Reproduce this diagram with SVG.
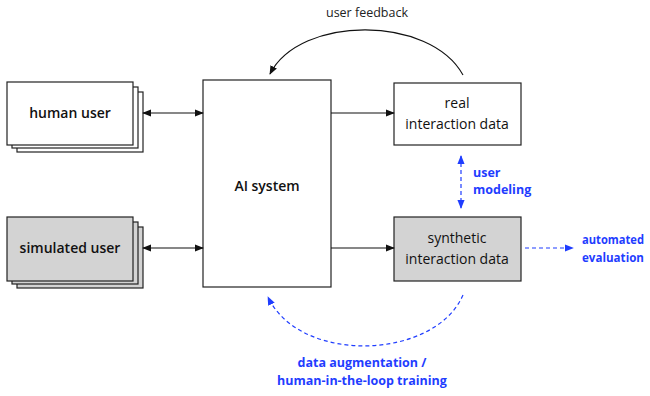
<svg xmlns="http://www.w3.org/2000/svg" width="650" height="396" viewBox="0 0 650 396">
<style>
.box{stroke:#222;stroke-width:1.2}
.w{fill:#fff}
.g{fill:#d3d3d3}
.t{font-family:"Open Sans",Lato,"DejaVu Sans",sans-serif;font-size:14px;fill:#111;text-anchor:middle}
.tb{font-weight:600}
.blue{font-family:"Open Sans",Lato,"DejaVu Sans",sans-serif;font-size:12.5px;font-weight:bold;fill:#1f3dff}
.conn{stroke:#111;stroke-width:1.1;fill:none}
.dash{stroke:#1f3dff;stroke-width:1.2;fill:none;stroke-dasharray:4,3}
</style>
<defs>
<marker id="ah" viewBox="0 0 10 10" refX="9" refY="5" markerWidth="9" markerHeight="9" orient="auto-start-reverse" markerUnits="userSpaceOnUse"><path d="M0,1 L10,5 L0,9 z" fill="#111"/></marker>
<marker id="bh" viewBox="0 0 10 10" refX="9" refY="5" markerWidth="9" markerHeight="9" orient="auto-start-reverse" markerUnits="userSpaceOnUse"><path d="M0,1 L10,5 L0,9 z" fill="#1f3dff"/></marker>
</defs>
<g id="human-user">
<rect class="box w" x="17" y="92" width="126" height="60"/>
<rect class="box w" x="12" y="87" width="126" height="61"/>
<rect class="box w" x="7" y="82" width="126" height="63"/>
<text class="t tb" x="70" y="118">human user</text>
</g>
<g id="simulated-user">
<rect class="box g" x="17" y="227" width="126" height="61"/>
<rect class="box g" x="12" y="222" width="126" height="62"/>
<rect class="box g" x="7" y="217" width="126" height="64"/>
<text class="t tb" x="70" y="253">simulated user</text>
</g>
<g id="ai-system">
<rect class="box w" x="203" y="80" width="128" height="207"/>
<text class="t tb" x="267" y="191">AI system</text>
</g>
<g id="real-data">
<rect class="box w" x="394" y="83" width="127" height="62"/>
<text class="t" x="457" y="108">real</text>
<text class="t" x="457" y="129">interaction data</text>
</g>
<g id="synthetic-data">
<rect class="box g" x="394" y="217" width="127" height="64"/>
<text class="t" x="457" y="243">synthetic</text>
<text class="t" x="457" y="264">interaction data</text>
</g>
<g id="connectors">
<line class="conn" x1="143" y1="113" x2="203" y2="113" marker-start="url(#ah)" marker-end="url(#ah)"/>
<line class="conn" x1="143" y1="248" x2="203" y2="248" marker-start="url(#ah)" marker-end="url(#ah)"/>
<line class="conn" x1="331" y1="113" x2="394" y2="113" marker-end="url(#ah)"/>
<line class="conn" x1="331" y1="248" x2="394" y2="248" marker-end="url(#ah)"/>
<path class="conn" d="M463,75 C430,15 300,15 270,74" marker-end="url(#ah)"/>
<text x="367" y="17" style="font-family:'Open Sans',Lato,'DejaVu Sans',sans-serif;font-size:12.5px;fill:#222;text-anchor:middle">user feedback</text>
<line class="dash" x1="461" y1="156" x2="461" y2="208" marker-start="url(#bh)" marker-end="url(#bh)"/>
<text class="blue" x="473" y="177">user</text>
<text class="blue" x="473" y="194">modeling</text>
<line class="dash" x1="525" y1="248" x2="573" y2="248" marker-end="url(#bh)"/>
<text class="blue" x="582" y="244" textLength="62" lengthAdjust="spacingAndGlyphs">automated</text>
<text class="blue" x="582" y="262" textLength="62" lengthAdjust="spacingAndGlyphs">evaluation</text>
<path class="dash" d="M463,295 C435,360 300,365 268,297" marker-end="url(#bh)"/>
<text class="blue" x="362" y="367" text-anchor="middle">data augmentation /</text>
<text class="blue" x="362" y="385" text-anchor="middle">human-in-the-loop training</text>
</g>
</svg>
